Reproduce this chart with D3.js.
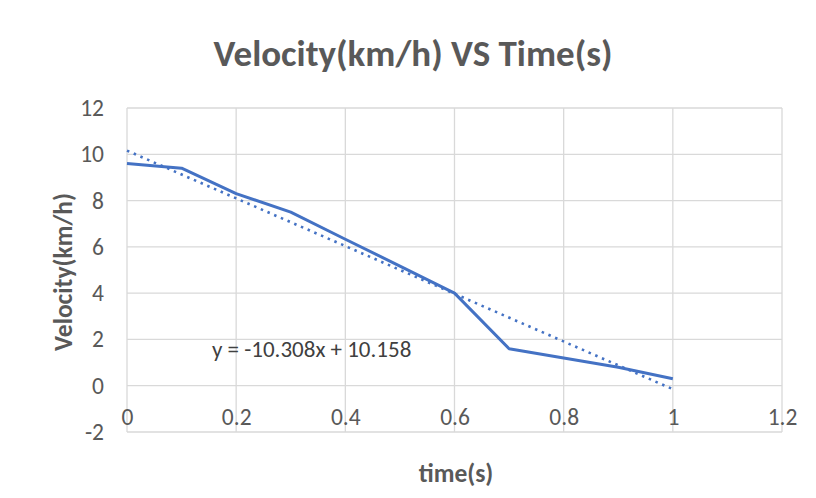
<!DOCTYPE html>
<html><head><meta charset="utf-8">
<script src="https://cdn.jsdelivr.net/npm/d3@7"></script>
<style>body{margin:0;background:#fff}</style>
</head><body>
<svg id="c" width="816" height="498"></svg>
<script>
const timeS = [0, 0.1, 0.2, 0.3, 0.4, 0.5, 0.6, 0.7, 0.8, 0.9, 1.0];
const velocity = [9.6, 9.4, 8.3, 7.5, 6.33, 5.17, 4.0, 1.6, 1.2, 0.8, 0.3];
const trendSlope = -10.308;
const trendIntercept = 10.158;
const xTicks = [0, 0.2, 0.4, 0.6, 0.8, 1, 1.2];
const yTicks = [-2, 0, 2, 4, 6, 8, 10, 12];
const titleText = "Velocity(km/h) VS Time(s)";
const xTitle = "time(s)";
const yTitle = "Velocity(km/h)";
const eqText = "y = -10.308x + 10.158";

const svg = d3.select("#c");
const font = "Calibri, Carlito, 'Open Sans', sans-serif";
const x = d3.scaleLinear().domain([0, 1.2]).range([127, 782]);
const y = d3.scaleLinear().domain([-2, 12]).range([432, 108]);
const grid = "#d9d9d9";
const txt = "#595959";

// gridlines
svg.append("g").selectAll("line").data(yTicks).join("line")
  .attr("x1", x(0)).attr("x2", x(1.2)).attr("y1", d => y(d)).attr("y2", d => y(d))
  .attr("stroke", grid).attr("stroke-width", 1.3);
svg.append("g").selectAll("line").data(xTicks).join("line")
  .attr("x1", d => x(d)).attr("x2", d => x(d)).attr("y1", y(-2)).attr("y2", y(12))
  .attr("stroke", grid).attr("stroke-width", 1.3);

// y tick labels
const yAxis = d3.axisLeft(y).tickValues(yTicks).tickSize(0).tickPadding(0).tickFormat(d => String(d));
const ya = svg.append("g").attr("transform", "translate(104,0)").call(yAxis);
ya.select(".domain").remove();
ya.selectAll("text").attr("dy", "7.5").attr("font-family", font).attr("font-size", 23.5).attr("fill", txt);

// x tick labels (Excel places them just under the y=0 axis)
const xAxis = d3.axisBottom(x).tickValues(xTicks).tickSize(0).tickPadding(0).tickFormat(d => String(d));
const xa = svg.append("g").attr("transform", "translate(0,425)").call(xAxis);
xa.select(".domain").remove();
xa.selectAll("text").attr("y", 0).attr("dy", 0).attr("font-family", font).attr("font-size", 23.5).attr("fill", txt);

// data line
svg.append("path")
  .datum(timeS.map((t, i) => [t, velocity[i]]))
  .attr("d", d3.line().x(d => x(d[0])).y(d => y(d[1])))
  .attr("fill", "none").attr("stroke", "#4472C4").attr("stroke-width", 3)
  .attr("stroke-linejoin", "round");

// trendline
const tx = [0, 1];
svg.append("path")
  .datum(tx.map(t => [t, trendIntercept + trendSlope * t]))
  .attr("d", d3.line().x(d => x(d[0])).y(d => y(d[1])))
  .attr("fill", "none").attr("stroke", "#4472C4").attr("stroke-width", 2.6)
  .attr("stroke-dasharray", "2.5,4.8");

// equation label
svg.append("text").attr("x", 212).attr("y", 357)
  .attr("font-family", font).attr("font-size", 23).attr("fill", "#404040").text(eqText);

// titles
svg.append("text").attr("x", 413).attr("y", 66).attr("text-anchor", "middle")
  .attr("font-family", font).attr("font-size", 37).attr("font-weight", "bold").attr("fill", txt).text(titleText);
svg.append("text").attr("x", 456).attr("y", 482).attr("text-anchor", "middle")
  .attr("font-family", font).attr("font-size", 25.5).attr("font-weight", "bold").attr("fill", txt).text(xTitle);
svg.append("text").attr("transform", "translate(72,272) rotate(-90)").attr("text-anchor", "middle")
  .attr("font-family", font).attr("font-size", 25.5).attr("font-weight", "bold").attr("fill", txt).text(yTitle);
</script>
</body></html>
